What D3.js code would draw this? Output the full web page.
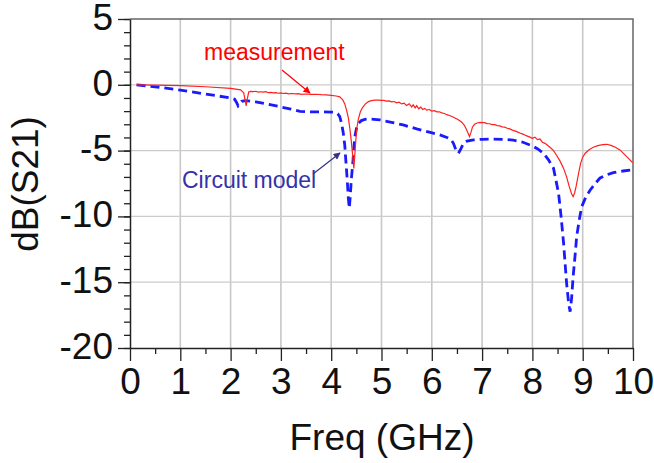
<!DOCTYPE html>
<html>
<head>
<meta charset="utf-8">
<script src="https://cdn.jsdelivr.net/npm/d3@7/dist/d3.min.js"></script>
<style>
  body { margin: 0; background: #fff; }
  text { font-family: "Liberation Sans", Arial, sans-serif; }
</style>
</head>
<body>
<script>
// measured S21 (red, noisy)
const measFreq = [0.13, 0.5, 1.0, 1.5, 2.0, 2.2, 2.26, 2.29, 2.31, 2.33, 2.36, 2.40, 2.45, 2.50, 2.55, 2.60, 2.65, 2.70, 2.75, 2.80, 2.85, 2.90, 2.95, 3.00, 3.05, 3.10, 3.15, 3.20, 3.30, 3.35, 3.40, 3.50, 3.60, 3.70, 3.80, 3.90, 4.00, 4.10, 4.17, 4.23, 4.27, 4.31, 4.34, 4.37, 4.40, 4.43, 4.45, 4.47, 4.49, 4.51, 4.54, 4.58, 4.62, 4.68, 4.74, 4.80, 4.87, 4.94, 5.00, 5.05, 5.10, 5.15, 5.20, 5.25, 5.30, 5.35, 5.40, 5.45, 5.50, 5.55, 5.60, 5.63, 5.67, 5.70, 5.74, 5.78, 5.82, 5.86, 5.90, 5.95, 6.00, 6.05, 6.10, 6.15, 6.20, 6.25, 6.30, 6.35, 6.40, 6.45, 6.50, 6.55, 6.60, 6.65, 6.70, 6.75, 6.78, 6.81, 6.85, 6.90, 6.96, 7.00, 7.05, 7.10, 7.15, 7.20, 7.25, 7.30, 7.35, 7.40, 7.45, 7.50, 7.55, 7.60, 7.65, 7.70, 7.75, 7.80, 7.85, 7.90, 7.95, 8.00, 8.05, 8.10, 8.15, 8.20, 8.25, 8.30, 8.36, 8.42, 8.48, 8.55, 8.62, 8.68, 8.73, 8.78, 8.81, 8.84, 8.87, 8.90, 8.93, 8.96, 9.00, 9.05, 9.12, 9.21, 9.30, 9.40, 9.48, 9.56, 9.65, 9.74, 9.82, 9.90, 9.99];
const measDb = [0.0, -0.02, -0.07, -0.15, -0.27, -0.38, -0.6, -1.2, -1.6, -1.1, -0.55, -0.5, -0.52, -0.49, -0.56, -0.53, -0.55, -0.52, -0.6, -0.57, -0.61, -0.6, -0.64, -0.62, -0.66, -0.63, -0.69, -0.66, -0.69, -0.67, -0.72, -0.7, -0.73, -0.72, -0.75, -0.77, -0.8, -0.85, -0.92, -1.15, -1.45, -2.0, -2.5, -3.3, -4.3, -5.5, -6.35, -5.3, -4.2, -3.3, -2.6, -2.05, -1.75, -1.45, -1.28, -1.2, -1.17, -1.16, -1.19, -1.18, -1.24, -1.22, -1.3, -1.27, -1.37, -1.32, -1.45, -1.4, -1.58, -1.44, -1.68, -1.52, -1.75, -1.58, -1.82, -1.7, -1.87, -1.79, -1.93, -1.88, -2.0, -1.97, -2.06, -2.05, -2.13, -2.18, -2.27, -2.33, -2.41, -2.5, -2.6, -2.72, -2.86, -3.1, -3.5, -3.94, -3.6, -3.2, -3.0, -2.9, -2.85, -2.88, -2.88, -2.95, -2.96, -3.03, -3.03, -3.1, -3.12, -3.2, -3.22, -3.3, -3.35, -3.44, -3.5, -3.58, -3.66, -3.73, -3.82, -3.9, -3.98, -4.06, -3.98, -4.17, -4.12, -4.36, -4.45, -4.6, -4.78, -5.0, -5.35, -5.8, -6.35, -7.0, -7.7, -8.3, -8.5, -8.2, -7.7, -7.1, -6.5, -5.95, -5.5, -5.2, -4.95, -4.75, -4.62, -4.55, -4.52, -4.6, -4.75, -4.95, -5.25, -5.55, -5.92];

// circuit model (blue dashed)
const modelFreq = [0.13, 0.5, 1.0, 1.5, 2.0, 2.08, 2.12, 2.15, 2.18, 2.22, 2.29, 2.5, 2.75, 3.0, 3.2, 3.38, 3.6, 3.8, 4.0, 4.08, 4.13, 4.17, 4.21, 4.24, 4.27, 4.29, 4.32, 4.34, 4.36, 4.38, 4.40, 4.43, 4.45, 4.47, 4.50, 4.54, 4.60, 4.67, 4.74, 4.85, 4.97, 5.2, 5.43, 5.7, 5.95, 6.16, 6.30, 6.38, 6.43, 6.48, 6.53, 6.58, 6.63, 6.70, 6.83, 7.0, 7.22, 7.45, 7.62, 7.80, 7.95, 8.1, 8.22, 8.32, 8.42, 8.52, 8.57, 8.62, 8.68, 8.72, 8.75, 8.78, 8.81, 8.85, 8.88, 8.93, 8.98, 9.06, 9.15, 9.25, 9.34, 9.47, 9.61, 9.8, 9.97];
const modelDb = [0.0, -0.15, -0.4, -0.7, -1.0, -1.1, -1.35, -1.6, -1.45, -1.25, -1.2, -1.3, -1.48, -1.68, -1.85, -2.02, -2.06, -2.05, -2.07, -2.1, -2.2, -2.42, -3.0, -3.66, -4.6, -5.7, -7.3, -8.6, -9.38, -8.4, -7.2, -5.94, -4.8, -3.94, -3.35, -2.93, -2.72, -2.63, -2.6, -2.62, -2.67, -2.85, -3.05, -3.35, -3.6, -3.81, -4.0, -4.15, -4.45, -4.95, -5.2, -4.85, -4.45, -4.28, -4.19, -4.14, -4.12, -4.15, -4.2, -4.35, -4.57, -4.85, -5.2, -5.7, -6.35, -8.24, -10.0, -12.04, -15.08, -16.6, -17.24, -16.2, -14.58, -12.9, -11.54, -10.3, -9.26, -8.55, -7.99, -7.5, -7.1, -6.85, -6.68, -6.55, -6.47];

const xTicks = [0, 1, 2, 3, 4, 5, 6, 7, 8, 9, 10];
const yTicks = [-20, -15, -10, -5, 0, 5];

const w = 654,
      h = 463,
      pLeft = 130, pRight = 633, pTop = 19, pBottom = 348;

const svg = d3.select("body")
              .append("svg")
              .attr("width", w)
              .attr("height", h);

const x = d3.scaleLinear().domain([0, 10]).range([pLeft, pRight]);
const y = d3.scaleLinear().domain([-20, 5]).range([pBottom, pTop]);

// grid
svg.append("g")
   .selectAll("line")
   .data(xTicks.slice(1, -1))
   .enter()
   .append("line")
   .attr("x1", d => x(d)).attr("x2", d => x(d))
   .attr("y1", pTop).attr("y2", pBottom)
   .attr("stroke", "#c8c8c8")
   .attr("stroke-width", 1.6);

svg.append("g")
   .selectAll("line")
   .data(yTicks.slice(1, -1))
   .enter()
   .append("line")
   .attr("x1", pLeft).attr("x2", pRight)
   .attr("y1", d => y(d)).attr("y2", d => y(d))
   .attr("stroke", "#cccccc")
   .attr("stroke-width", 1.3);

// frame top / right
svg.append("path")
   .attr("d", `M${pLeft},${pTop}H${pRight}V${pBottom}`)
   .attr("fill", "none")
   .attr("stroke", "#666")
   .attr("stroke-width", 1.5);

// minor ticks
svg.append("g")
   .attr("transform", `translate(${pLeft},0)`)
   .call(d3.axisLeft(y).tickValues(d3.range(-20, 6, 1)).tickSize(6).tickSizeOuter(0).tickFormat(""))
   .call(g => g.select(".domain").remove());

svg.append("g")
   .attr("transform", `translate(0,${pBottom})`)
   .call(d3.axisBottom(x).tickValues(d3.range(0.5, 10, 1)).tickSize(6).tickSizeOuter(0).tickFormat(""))
   .call(g => g.select(".domain").remove());

// main axes (plain hyphen for negatives, like the original)
const yAxis = svg.append("g")
   .attr("transform", `translate(${pLeft},0)`)
   .call(d3.axisLeft(y).tickValues(yTicks).tickSize(12).tickPadding(5).tickSizeOuter(0).tickFormat(d => String(d)));

const xAxis = svg.append("g")
   .attr("transform", `translate(0,${pBottom})`)
   .call(d3.axisBottom(x).tickValues(xTicks).tickSize(13).tickPadding(7).tickSizeOuter(0).tickFormat(d => String(d)));

svg.selectAll(".tick line").attr("stroke", "#222").attr("stroke-width", 1.3);
[yAxis, xAxis].forEach(a => {
  a.select(".domain").attr("stroke", "#222").attr("stroke-width", 1.5);
  a.selectAll("text")
   .style("font-family", "'Liberation Sans', Arial, sans-serif")
   .style("font-size", "37px")
   .attr("fill", "#111");
});
yAxis.selectAll("text").attr("dy", "0.28em");

// curves
const line = d3.line()
               .x(d => x(d[0]))
               .y(d => y(d[1]));

svg.append("path")
   .datum(modelFreq.map((f, i) => [f, modelDb[i]]))
   .attr("d", line)
   .attr("fill", "none")
   .attr("stroke", "#1a1aff")
   .attr("stroke-width", 2.8)
   .attr("stroke-dasharray", "9,5");

svg.append("path")
   .datum(measFreq.map((f, i) => [f, measDb[i]]))
   .attr("d", line)
   .attr("fill", "none")
   .attr("stroke", "#ff2020")
   .attr("stroke-width", 1.2);

// arrows
const defs = svg.append("defs");
[["redHead", "#ff0000"], ["blueHead", "#333388"]].forEach(m => {
  defs.append("marker")
      .attr("id", m[0])
      .attr("viewBox", "0 0 10 10")
      .attr("refX", 9).attr("refY", 5)
      .attr("markerWidth", 9).attr("markerHeight", 7)
      .attr("markerUnits", "userSpaceOnUse")
      .attr("orient", "auto")
      .append("path")
      .attr("d", "M0,0L10,5L0,10z")
      .attr("fill", m[1]);
});

svg.append("line")
   .attr("x1", 282).attr("y1", 70).attr("x2", 310).attr("y2", 93)
   .attr("stroke", "#ff0000").attr("stroke-width", 1.2)
   .attr("marker-end", "url(#redHead)");

svg.append("line")
   .attr("x1", 313).attr("y1", 174).attr("x2", 340).attr("y2", 153)
   .attr("stroke", "#333388").attr("stroke-width", 1.2)
   .attr("marker-end", "url(#blueHead)");

// labels
svg.append("text")
   .attr("x", 204).attr("y", 60)
   .attr("fill", "#ff0000")
   .style("font-size", "23px")
   .text("measurement");

svg.append("text")
   .attr("x", 182).attr("y", 188)
   .attr("fill", "#3333aa")
   .style("font-size", "23px")
   .text("Circuit model");

svg.append("text")
   .attr("x", 382).attr("y", 450)
   .attr("text-anchor", "middle")
   .attr("fill", "#111")
   .style("font-size", "37px")
   .text("Freq (GHz)");

svg.append("text")
   .attr("transform", "translate(38,184) rotate(-90)")
   .attr("text-anchor", "middle")
   .attr("fill", "#111")
   .style("font-size", "37px")
   .text("dB(S21)");
</script>
</body>
</html>
